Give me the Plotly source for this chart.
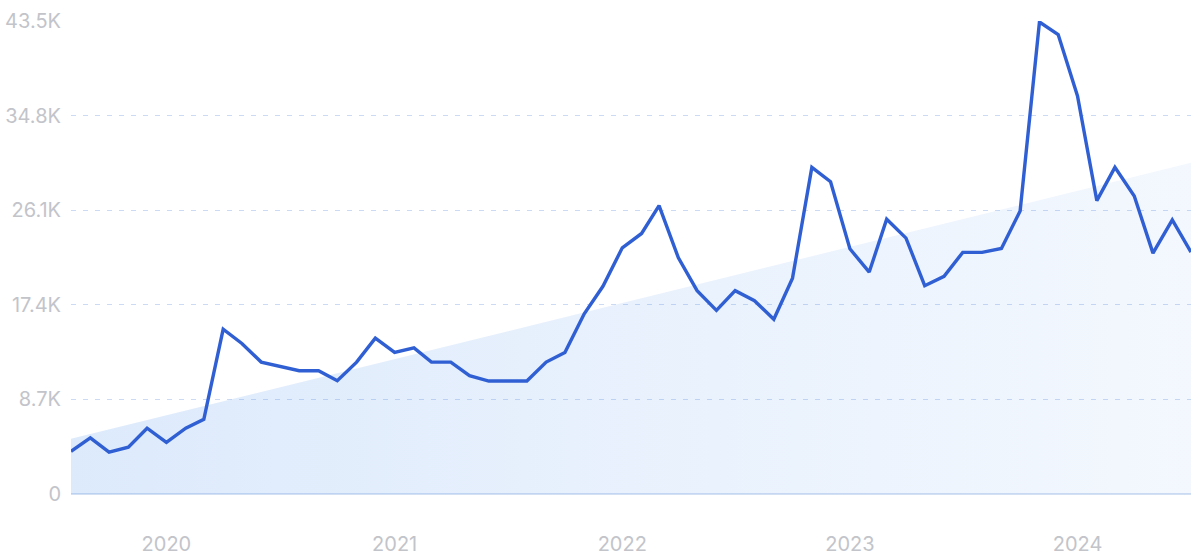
import plotly.graph_objects as go
import pandas as pd

# Monthly search volume, Aug 2019 - Jul 2024
months = pd.date_range("2019-08-01", periods=60, freq="MS")
volume = [
    3920, 5160, 3850, 4310, 6050, 4740, 6050, 6870, 15150, 13840, 12130, 11740,
    11340, 11340, 10420, 12130, 14330, 13020, 13440, 12130, 12130, 10880, 10390, 10390,
    10390, 12130, 13020, 16570, 19100, 22640, 23960, 26520, 21720, 18700, 16890, 18700,
    17780, 16070, 19850, 30040, 28720, 22550, 20410, 25270, 23530, 19160, 20020, 22220,
    22220, 22580, 26030, 43410, 42260, 36600, 26980, 30040, 27410, 22150, 25210, 22250,
]
# Trend line (start and end value)
trend_dates = [months[0], months[-1]]
trend_values = [5070, 30460]

y_tickvals = [0, 8700, 17400, 26100, 34800, 43500]
y_ticktext = ["0", "8.7K", "17.4K", "26.1K", "34.8K", "43.5K"]
x_tickvals = ["2020-01-01", "2021-01-01", "2022-01-01", "2023-01-01", "2024-01-01"]
x_ticktext = ["2020", "2021", "2022", "2023", "2024"]

fig = go.Figure()
fig.add_trace(go.Scatter(
    x=trend_dates, y=trend_values, mode="lines", line=dict(width=0),
    fill="tozeroy",
    fillgradient=dict(type="horizontal",
                      colorscale=[[0, "rgba(100,160,240,0.22)"], [1, "rgba(100,160,240,0.075)"]]),
    hoverinfo="skip", showlegend=False,
))
fig.add_trace(go.Scatter(
    x=months, y=volume, mode="lines",
    line=dict(color="#2f5fd3", width=3.4), showlegend=False,
))
fig.update_layout(
    width=1200, height=559,
    margin=dict(l=71, r=9, t=21, b=65, autoexpand=False),
    paper_bgcolor="white", plot_bgcolor="white",
    font=dict(family="Inter, Roboto, sans-serif", size=20, color="#c2c4ca"),
)
fig.update_yaxes(
    range=[0, 43500], tickvals=y_tickvals, ticktext=y_ticktext,
    showgrid=True, gridcolor="#cddaf3", gridwidth=1, griddash="5px,7px",
    zeroline=True, zerolinecolor="#d3dff3", zerolinewidth=2,
    ticks="", ticklabelstandoff=9, showline=False, fixedrange=True,
    automargin=False,
)
fig.update_xaxes(
    range=[months[0], months[-1]], tickvals=x_tickvals, ticktext=x_ticktext,
    showgrid=False, zeroline=False, showline=False, ticks="",
    ticklabelstandoff=36, automargin=False,
)
fig.write_html("out.html", config={"displayModeBar": False},
               post_script="document.body.style.margin='0';")
